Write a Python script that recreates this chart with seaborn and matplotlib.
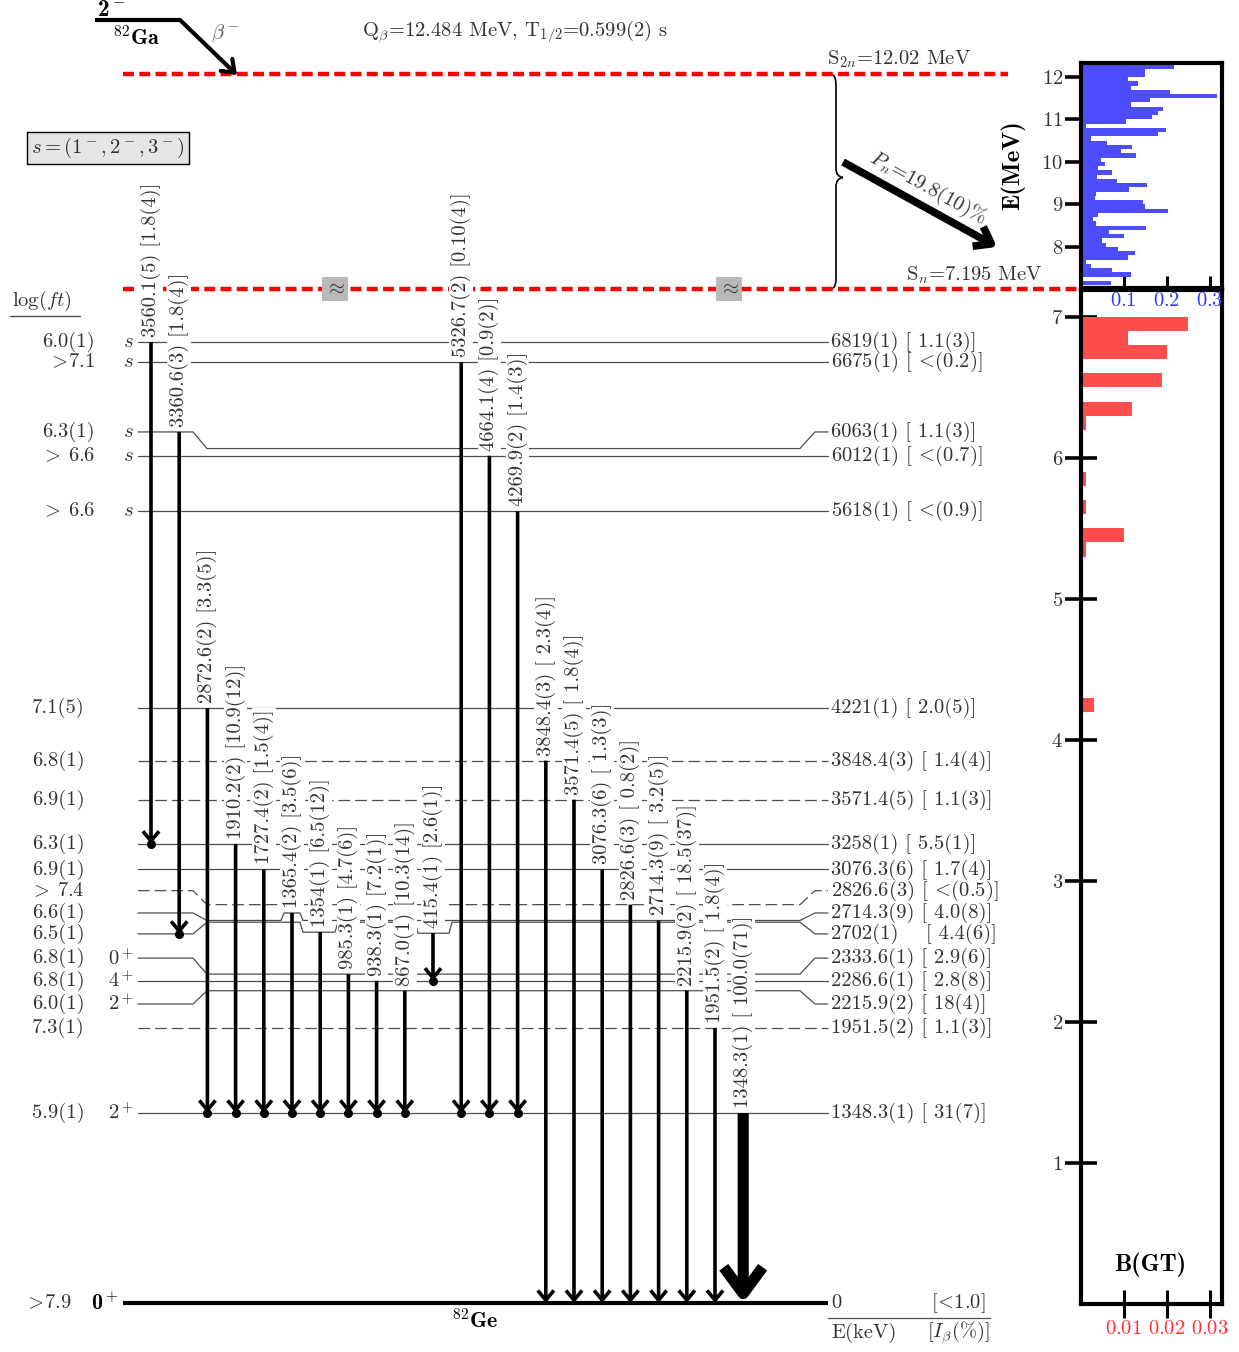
import matplotlib
matplotlib.use("Agg")
import matplotlib.pyplot as plt
import numpy as np
import pandas as pd
import seaborn as sns
from matplotlib.path import Path
from matplotlib.patches import PathPatch

# ---------------------------------------------------------------- data
# 82Ga -> 82Ge beta decay
Q_BETA = "12.484"
T_HALF = "0.599(2)"
S2N = "12.02"
SN = 7.195          # MeV
PN = "19.8(10)"

LT = r"$\!<\!$"     # tight "<" / ">" for the labels
GT = r"$\!>\!$"

# levels in 82Ge (keV)
level_energy = [6819, 6675, 6063, 6012, 5618, 4221, 3848.4, 3571.4, 3258, 3076.3,
                2826.6, 2714.3, 2702, 2333.6, 2286.6, 2215.9, 1951.5, 1348.3]
level_label = ["6819(1)", "6675(1)", "6063(1)", "6012(1)", "5618(1)", "4221(1)",
               "3848.4(3)", "3571.4(5)", "3258(1)", "3076.3(6)", "2826.6(3)",
               "2714.3(9)", "2702(1)   ", "2333.6(1)", "2286.6(1)", "2215.9(2)",
               "1951.5(2)", "1348.3(1)"]
level_ibeta = ["1.1(3)", LT + "(0.2)", "1.1(3)", LT + "(0.7)", LT + "(0.9)", "2.0(5)",
               "1.4(4)", "1.1(3)", "5.5(1)", "1.7(4)", LT + "(0.5)", "4.0(8)",
               "4.4(6)", "2.9(6)", "2.8(8)", "18(4)", "1.1(3)", "31(7)"]
level_logft = ["6.0(1)", GT + "7.1", "6.3(1)", GT + " 6.6", GT + " 6.6", "7.1(5)",
               "6.8(1)", "6.9(1)", "6.3(1)", "6.9(1)", GT + " 7.4", "6.6(1)",
               "6.5(1)", "6.8(1)", "6.8(1)", "6.0(1)", "7.3(1)", "5.9(1)"]
level_spin = ["$s$"] * 5 + [""] * 8 + ["0$^+$", "4$^+$", "2$^+$", "", "2$^+$"]
level_tentative = [False] * 6 + [True, True, False, False, True] + [False] * 5 + [True, False]

# gamma rays: energy label, relative intensity, initial and final level (keV)
gamma_label = ["3560.1(5)", "3360.6(3)", "2872.6(2)", "1910.2(2)", "1727.4(2)",
               "1365.4(2)", "1354(1)", "985.3(1)", "938.3(1)", "867.0(1)",
               "415.4(1)", "5326.7(2)", "4664.1(4)", "4269.9(2)", "3848.4(3)",
               "3571.4(5)", "3076.3(6)", "2826.6(3)", "2714.3(9)", "2215.9(2)",
               "1951.5(2)", "1348.3(1)"]
gamma_intensity = ["[1.8(4)]", "[1.8(4)]", "[3.3(5)]", "[10.9(12)]", "[1.5(4)]",
                   "[3.5(6)]", "[6.5(12)]", "[4.7(6)]", "[7.2(1)]", "[10.3(14)]",
                   "[2.6(1)]", "[0.10(4)]", "[0.9(2)]", "[1.4(3)]", "[ 2.3(4)]",
                   "[ 1.8(4)]", "[ 1.3(3)]", "[ 0.8(2)]", "[ 3.2(5)]", "[ 18.5(37)]",
                   "[ 1.8(4)]", "[ 100.0(71)]"]
gamma_rel = [1.8, 1.8, 3.3, 10.9, 1.5, 3.5, 6.5, 4.7, 7.2, 10.3, 2.6, 0.10, 0.9,
             1.4, 2.3, 1.8, 1.3, 0.8, 3.2, 18.5, 1.8, 100.0]
gamma_from = [6819, 6063, 4221, 3258, 3076.3, 2714.3, 2702, 2333.6, 2286.6, 2215.9,
              2702, 6675, 6012, 5618, 3848.4, 3571.4, 3076.3, 2826.6, 2714.3,
              2215.9, 1951.5, 1348.3]
gamma_to = [3258, 2702] + [1348.3] * 8 + [2286.6] + [1348.3] * 3 + [0] * 8

# B(GT) in 100 keV bins (bin centres, MeV)
bgt_low_energy = [6.95, 6.85, 6.75, 6.55, 6.35, 6.25, 5.85, 5.65, 5.45, 5.35, 4.25]
bgt_low = [0.025, 0.011, 0.020, 0.019, 0.012, 0.0013, 0.0013, 0.0013, 0.010, 0.0013, 0.0031]

bgt_high_energy = [12.25, 12.15, 12.05, 11.95, 11.85, 11.75, 11.65, 11.55, 11.45, 11.35,
                   11.25, 11.15, 11.05, 10.95, 10.85, 10.75, 10.65, 10.55, 10.45, 10.35,
                   10.25, 10.15, 10.05, 9.95, 9.85, 9.75, 9.65, 9.55, 9.45, 9.35,
                   9.25, 9.15, 9.05, 8.95, 8.85, 8.75, 8.65, 8.55, 8.45, 8.35,
                   8.25, 8.15, 8.05, 7.95, 7.85, 7.75, 7.65, 7.55, 7.45, 7.35, 7.15]
bgt_high = [0.217, 0.150, 0.150, 0.110, 0.133, 0.117, 0.208, 0.317, 0.161, 0.117,
            0.191, 0.180, 0.166, 0.105, 0.012, 0.198, 0.180, 0.024, 0.061, 0.119,
            0.094, 0.129, 0.047, 0.057, 0.040, 0.073, 0.038, 0.085, 0.154, 0.112,
            0.036, 0.033, 0.145, 0.150, 0.203, 0.040, 0.029, 0.036, 0.152, 0.066,
            0.101, 0.050, 0.059, 0.087, 0.126, 0.110, 0.012, 0.024, 0.073, 0.117, 0.071]

# ---------------------------------------------------------------- layout
W, H = 1239, 1352
K = 0.14093      # pixels per keV in the level scheme
Y0 = 1303        # pixel row of the ground state
FS = 14.8
TXT = "#333333"
LVL = "#4d4d4d"
RED = "#ff4d4d"
BLUE = "#4d4dff"

# where labels are moved off a crowded level (pixels, + is down)
label_shift = {6063: -16.6, 2826.6: -14.0, 2714.3: -7.5, 2702: 11.7,
               2333.6: -16.0, 2215.9: 13.3}
# little detours of a level line where a gamma leaves it
level_bumps = {2714.3: [(284, 300, -7.5)], 2702: [(303, 335, 10.0), (418, 449, 11.0)]}


def E_at(py):
    return (Y0 - py) / K


def level_xy(E, shift=0.0, bumps=()):
    yl = E - shift / K
    if shift:
        pts = [(138, yl), (193, yl), (207, E), (800, E), (815, yl), (828, yl)]
    else:
        pts = [(138, E), (828, E)]
    for x0, x1, d in bumps:
        yb = E - d / K
        pts += [(x0 - 3, E), (x0, yb), (x1, yb), (x1 + 3, E)]
    pts.sort()
    xs, ys = zip(*pts)
    return np.array(xs, float), np.array(ys, float)


sns.set_theme(style="ticks")
plt.rcParams["font.family"] = ["cmr10", "DejaVu Serif"]
plt.rcParams["mathtext.fontset"] = "cm"
plt.rcParams["axes.unicode_minus"] = False
plt.rcParams["axes.formatter.use_mathtext"] = True
plt.rcParams["lines.scale_dashes"] = False

fig = plt.figure(figsize=(W / 100, H / 100), dpi=100)
ax = fig.add_axes([0, 0, 1, 1])
ax.set_xlim(0, W)
ax.set_ylim(E_at(H), E_at(0))
ax.axis("off")

# ---------------------------------------------------------------- levels
paths = {}
for E, lab, ib, lft, spin, tent in zip(level_energy, level_label, level_ibeta,
                                       level_logft, level_spin, level_tentative):
    xs, ys = level_xy(E, label_shift.get(E, 0.0), level_bumps.get(E, ()))
    paths[E] = (xs, ys)
    style = dict(dashes=(8.4, 3.6)) if tent else {}
    ax.plot(xs, ys, color=LVL, lw=0.9, zorder=2, **style)
    yl = ys[0]
    ax.text(95 if spin == "$s$" else 85, yl, lft, ha="right", va="center",
            fontsize=FS, color=TXT)
    if spin:
        ax.text(134, yl, spin, ha="right", va="center", fontsize=FS, color=TXT)
    ax.text(831, ys[-1], f"{lab} [ {ib}]", ha="left", va="center", fontsize=FS, color=TXT)


def level_y(E, x):
    if E == 0:
        return 0.0
    return float(np.interp(x, *paths[E]))


# ground state
ax.plot([123, 828], [0, 0], color="black", lw=3, solid_capstyle="butt", zorder=4)
ax.text(72, 0, GT + "7.9", ha="right", va="center", fontsize=FS, color=TXT)
ax.text(119, 0, "0$^+$", ha="right", va="center", fontsize=FS + 1, family="cmb10",
        color="black")
ax.text(831, 0, "0", ha="left", va="center", fontsize=FS, color=TXT)
ax.text(985, 0, "[" + LT + "1.0]", ha="right", va="center", fontsize=FS, color=TXT)
ax.plot([828, 990], [E_at(1318)] * 2, color=LVL, lw=0.9)
ax.text(831, E_at(1333), "E(keV)", ha="left", va="center", fontsize=FS, color=TXT)
ax.text(990, E_at(1333), r"[$I_\beta$(%)]", ha="right", va="center", fontsize=FS, color=TXT)
ax.text(475, E_at(1320), r"$^{82}\mathbf{Ge}$", ha="center", va="center", fontsize=FS + 1,
        color="black")

# ---------------------------------------------------------------- gammas
for i, (lab, inten, rel, e0, e1) in enumerate(zip(gamma_label, gamma_intensity, gamma_rel,
                                                  gamma_from, gamma_to)):
    x = 151 + 28.2 * i
    ys, ye = level_y(e0, x), level_y(e1, x)
    ax.text(x, ys + 5 / K, f"{lab} {inten}", rotation=90, ha="center", va="bottom",
            fontsize=FS, color=TXT, zorder=3,
            bbox=dict(boxstyle="square,pad=0.08", fc="white", ec="none"))
    if rel > 50:
        lw, hl, hw = 8, 19, 14
    else:
        lw, hl, hw = 2.6, 7, 5.8
    ax.annotate("", xy=(x, ye), xytext=(x, ys),
                arrowprops=dict(arrowstyle=f"->,head_length={hl},head_width={hw}",
                                mutation_scale=1, lw=lw, color="black", capstyle="butt",
                                shrinkA=0, shrinkB=0), zorder=5)
    if e1 != 0:
        ax.plot([x], [ye], "o", color="black", ms=5.5, zorder=6)

# ---------------------------------------------------------------- top part
ax.plot([95, 180], [E_at(20)] * 2, color="black", lw=3, solid_capstyle="butt")
ax.text(111, E_at(10), "2$^-$", ha="center", va="center", fontsize=FS + 2,
        family="cmb10", color="black")
ax.text(137, E_at(37), r"$^{82}\mathbf{Ga}$", ha="center", va="center", fontsize=FS + 1,
        color="black")
ax.annotate("", xy=(237, E_at(75)), xytext=(180, E_at(20)),
            arrowprops=dict(arrowstyle="->,head_length=8,head_width=6", mutation_scale=1,
                            lw=3, color="black", shrinkA=0, shrinkB=0))
ax.text(225, E_at(33), r"$\beta^-$", ha="center", va="center", fontsize=FS, color="#555555")
ax.text(362, E_at(32), rf"Q$_\beta$={Q_BETA} MeV, T$_{{1/2}}$={T_HALF} s", ha="left",
        va="center", fontsize=FS, color=TXT)

y_s2n = E_at(74)       # S2n is drawn above the axis break
y_sn = SN * 1000
ax.plot([123, 1008], [y_s2n] * 2, color="red", lw=3.2, dashes=(7.9, 3.8),
        solid_capstyle="butt", zorder=2)
ax.plot([123, 1080], [y_sn] * 2, color="red", lw=3.2, dashes=(7.9, 3.8), zorder=2)
ax.text(827, E_at(59), rf"S$_{{2n}}$={S2N} MeV", ha="left", va="center", fontsize=FS,
        color=TXT)
ax.text(906, E_at(275), rf"S$_n$={SN} MeV", ha="left", va="center", fontsize=FS, color=TXT)
for xb in (335, 729):
    ax.text(xb, y_sn, r"$\approx$", ha="center", va="center", fontsize=FS, color=TXT,
            zorder=4, bbox=dict(boxstyle="square,pad=0.15", fc="#b8b8b8", ec="none"))

# brace between Sn and S2n
top_px, bot_px = 74, Y0 - y_sn * K
mid_px = 0.5 * (top_px + bot_px) - 4
bp = [(831, top_px), (836, top_px + 1), (836, top_px + 11), (836, mid_px - 9),
      (836, mid_px - 1), (843, mid_px), (836, mid_px + 1), (836, mid_px + 9),
      (836, bot_px - 10), (836, bot_px - 1), (831, bot_px)]
codes = [Path.MOVETO, Path.CURVE3, Path.CURVE3, Path.LINETO, Path.CURVE3, Path.CURVE3,
         Path.CURVE3, Path.CURVE3, Path.LINETO, Path.CURVE3, Path.CURVE3]
brace = Path([(px, E_at(py)) for px, py in bp], codes)
ax.add_patch(PathPatch(brace, fc="none", ec="black", lw=1.2))

ax.annotate("", xy=(997, E_at(247)), xytext=(843, E_at(162)),
            arrowprops=dict(arrowstyle="->,head_length=11,head_width=8", mutation_scale=1,
                            lw=5.5, color="black", capstyle="butt", shrinkA=0, shrinkB=0))
ax.text(928, E_at(188), rf"$P_n$={PN}%", rotation=-29, ha="center", va="center",
        fontsize=FS, color=TXT, rotation_mode="anchor")

ax.text(108, E_at(148), r"$s=(1^-,2^-,3^-)$", ha="center", va="center", fontsize=FS,
        color=TXT, bbox=dict(boxstyle="square,pad=0.2", fc="#e5e5e5", ec="black", lw=1))
ax.text(12, E_at(301), r"log$(ft)$", ha="left", va="center", fontsize=FS, color=TXT)
ax.plot([10, 80], [E_at(316)] * 2, color=LVL, lw=1)

# ---------------------------------------------------------------- B(GT) panels
low = pd.DataFrame({"E": bgt_low_energy, "bgt": bgt_low})
high = pd.DataFrame({"E": bgt_high_energy, "bgt": bgt_high})
low_edges = [round(0.1 * k, 1) for k in range(71)]
high_edges = [round(7.0 + 0.1 * k, 1) for k in range(54)]

axl = fig.add_axes([1080.5 / W, 1 - 1303.5 / H, 141.5 / W, 1013.5 / H])
axl.patch.set_alpha(0)
sns.histplot(data=low, y="E", weights="bgt", bins=low_edges, ax=axl,
             color=RED, alpha=1, linewidth=0)
axl.set_xlim(0, 141.5 / 4300)
axl.set_ylim(0, 1013.5 / (K * 1000))
axl.set_xticks([0.01, 0.02, 0.03])
axl.set_yticks([1, 2, 3, 4, 5, 6, 7])

axt = fig.add_axes([1080.5 / W, 1 - 288 / H, 141.5 / W, 225 / H])
axt.patch.set_alpha(0)
sns.histplot(data=high, y="E", weights="bgt", bins=high_edges, ax=axt,
             color=BLUE, alpha=1, linewidth=0)
axt.set_xlim(0, 141.5 / 430)
axt.set_ylim(7.03, 12.33)
axt.set_xticks([0.1, 0.2, 0.3])
axt.set_yticks([8, 9, 10, 11, 12])

for a in (axl, axt):
    a.set_xlabel("")
    a.set_ylabel("")
    for s in a.spines.values():
        s.set_visible(True)
        s.set_linewidth(3)
        s.set_color("black")
    a.tick_params(axis="y", direction="inout", length=23, width=2.6, labelsize=FS,
                  labelcolor=TXT, color="black", pad=1)
axl.tick_params(axis="x", direction="inout", length=20, width=2.2, labelsize=FS,
                labelcolor="#ff3333", color="black", pad=2)
axt.tick_params(axis="x", direction="in", length=9, width=2.2, labelsize=FS,
                labelcolor="#3333ff", color="black", pad=3)

fig.text(1013 / W, 1 - 165 / H, "E(MeV)", rotation=90, ha="center", va="center",
         fontsize=18, family="cmb10", color="black")
fig.text(1150 / W, 1 - 1265 / H, "B(GT)", ha="center", va="center", fontsize=17.5,
         family="cmb10", color="black")

fig.savefig("out.png", dpi=100)
